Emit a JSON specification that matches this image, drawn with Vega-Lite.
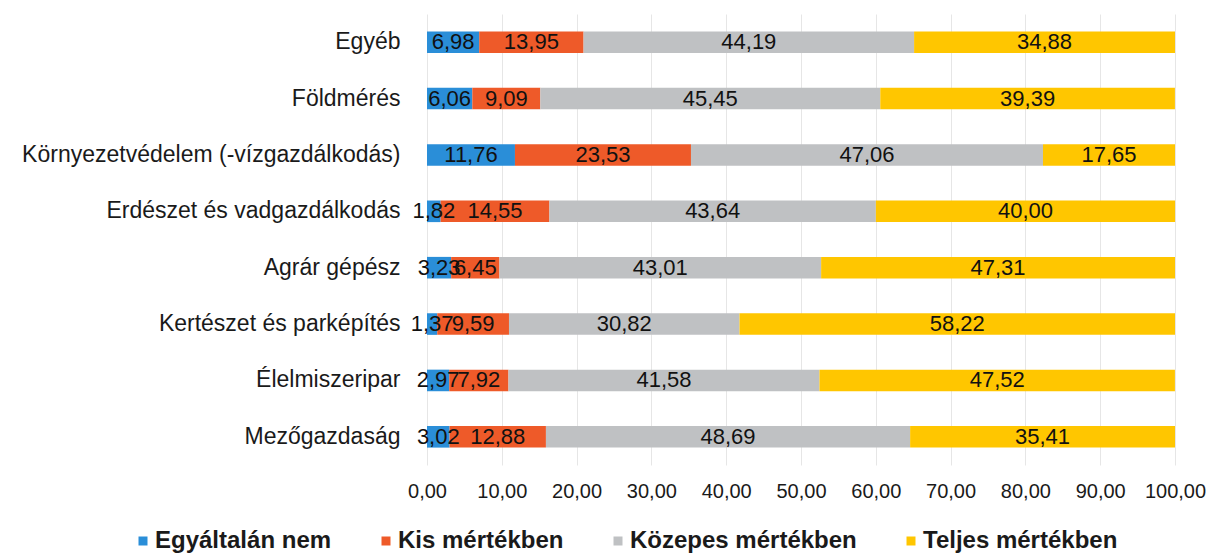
{
  "$schema": "https://vega.github.io/schema/vega-lite/v6.json",
  "width": 748,
  "height": 451,
  "autosize": {"type": "none"},
  "padding": {"left": 427, "top": 14, "right": 36, "bottom": 88},
  "background": "white",
  "config": {
    "font": "Liberation Sans",
    "view": {"stroke": null}
  },
  "data": {
    "values": [
      {"cat": "Egyéb", "resp": "Egyáltalán nem", "o": 1, "v": 6.98},
      {"cat": "Egyéb", "resp": "Kis mértékben", "o": 2, "v": 13.95},
      {"cat": "Egyéb", "resp": "Közepes mértékben", "o": 3, "v": 44.19},
      {"cat": "Egyéb", "resp": "Teljes mértékben", "o": 4, "v": 34.88},
      {"cat": "Földmérés", "resp": "Egyáltalán nem", "o": 1, "v": 6.06},
      {"cat": "Földmérés", "resp": "Kis mértékben", "o": 2, "v": 9.09},
      {"cat": "Földmérés", "resp": "Közepes mértékben", "o": 3, "v": 45.45},
      {"cat": "Földmérés", "resp": "Teljes mértékben", "o": 4, "v": 39.39},
      {"cat": "Környezetvédelem (-vízgazdálkodás)", "resp": "Egyáltalán nem", "o": 1, "v": 11.76},
      {"cat": "Környezetvédelem (-vízgazdálkodás)", "resp": "Kis mértékben", "o": 2, "v": 23.53},
      {"cat": "Környezetvédelem (-vízgazdálkodás)", "resp": "Közepes mértékben", "o": 3, "v": 47.06},
      {"cat": "Környezetvédelem (-vízgazdálkodás)", "resp": "Teljes mértékben", "o": 4, "v": 17.65},
      {"cat": "Erdészet és vadgazdálkodás", "resp": "Egyáltalán nem", "o": 1, "v": 1.82},
      {"cat": "Erdészet és vadgazdálkodás", "resp": "Kis mértékben", "o": 2, "v": 14.55},
      {"cat": "Erdészet és vadgazdálkodás", "resp": "Közepes mértékben", "o": 3, "v": 43.64},
      {"cat": "Erdészet és vadgazdálkodás", "resp": "Teljes mértékben", "o": 4, "v": 40.00},
      {"cat": "Agrár gépész", "resp": "Egyáltalán nem", "o": 1, "v": 3.23},
      {"cat": "Agrár gépész", "resp": "Kis mértékben", "o": 2, "v": 6.45},
      {"cat": "Agrár gépész", "resp": "Közepes mértékben", "o": 3, "v": 43.01},
      {"cat": "Agrár gépész", "resp": "Teljes mértékben", "o": 4, "v": 47.31},
      {"cat": "Kertészet és parképítés", "resp": "Egyáltalán nem", "o": 1, "v": 1.37},
      {"cat": "Kertészet és parképítés", "resp": "Kis mértékben", "o": 2, "v": 9.59},
      {"cat": "Kertészet és parképítés", "resp": "Közepes mértékben", "o": 3, "v": 30.82},
      {"cat": "Kertészet és parképítés", "resp": "Teljes mértékben", "o": 4, "v": 58.22},
      {"cat": "Élelmiszeripar", "resp": "Egyáltalán nem", "o": 1, "v": 2.97},
      {"cat": "Élelmiszeripar", "resp": "Kis mértékben", "o": 2, "v": 7.92},
      {"cat": "Élelmiszeripar", "resp": "Közepes mértékben", "o": 3, "v": 41.58},
      {"cat": "Élelmiszeripar", "resp": "Teljes mértékben", "o": 4, "v": 47.52},
      {"cat": "Mezőgazdaság", "resp": "Egyáltalán nem", "o": 1, "v": 3.02},
      {"cat": "Mezőgazdaság", "resp": "Kis mértékben", "o": 2, "v": 12.88},
      {"cat": "Mezőgazdaság", "resp": "Közepes mértékben", "o": 3, "v": 48.69},
      {"cat": "Mezőgazdaság", "resp": "Teljes mértékben", "o": 4, "v": 35.41}
    ]
  },
  "transform": [
    {"stack": "v", "groupby": ["cat"], "sort": [{"field": "o", "order": "ascending"}], "as": ["x0", "x1"]},
    {"calculate": "(datum.x0 + datum.x1) / 2", "as": "mid"},
    {"calculate": "replace(format(datum.v, '.2f'), '.', ',')", "as": "lab"}
  ],
  "encoding": {
    "y": {
      "field": "cat",
      "type": "nominal",
      "sort": ["Egyéb", "Földmérés", "Környezetvédelem (-vízgazdálkodás)", "Erdészet és vadgazdálkodás", "Agrár gépész", "Kertészet és parképítés", "Élelmiszeripar", "Mezőgazdaság"],
      "scale": {"paddingInner": 0.617, "paddingOuter": 0.3085},
      "axis": {
        "title": null,
        "ticks": false,
        "domain": false,
        "labelFontSize": 23,
        "labelColor": "#1a1a1a",
        "labelPadding": 27,
        "labelLimit": 500
      }
    }
  },
  "layer": [
    {
      "mark": {"type": "bar"},
      "encoding": {
        "x": {
          "field": "x0",
          "type": "quantitative",
          "scale": {"domain": [0, 100], "nice": false},
          "axis": {
            "title": null,
            "values": [0, 10, 20, 30, 40, 50, 60, 70, 80, 90, 100],
            "labelExpr": "replace(format(datum.value, '.2f'), '.', ',')",
            "labelFontSize": 20,
            "labelColor": "#1a1a1a",
            "labelPadding": 16,
            "labelOverlap": false,
            "labelFlush": false,
            "labelBound": false,
            "ticks": false,
            "domain": false,
            "grid": true,
            "gridColor": "#e6e6e6",
            "gridWidth": 1
          }
        },
        "x2": {"field": "x1"},
        "color": {
          "field": "resp",
          "type": "nominal",
          "sort": ["Egyáltalán nem", "Kis mértékben", "Közepes mértékben", "Teljes mértékben"],
          "scale": {
            "domain": ["Egyáltalán nem", "Kis mértékben", "Közepes mértékben", "Teljes mértékben"],
            "range": ["#2A8ED8", "#EE5A29", "#BFC1C3", "#FFC600"]
          },
          "legend": {
            "title": null,
            "orient": "none",
            "direction": "horizontal",
            "legendX": -296,
            "legendY": 515,
            "symbolType": "square",
            "symbolSize": 81,
            "symbolStrokeWidth": 0,
            "labelFontSize": 24,
            "labelFontWeight": "bold",
            "labelColor": "#1a1a1a",
            "labelOffset": 0,
            "labelLimit": 400,
            "columnPadding": 42
          }
        }
      }
    },
    {
      "mark": {"type": "text", "fontSize": 22, "color": "#111111", "baseline": "middle", "align": "center"},
      "encoding": {
        "x": {"field": "mid", "type": "quantitative"},
        "text": {"field": "lab", "type": "nominal"}
      }
    }
  ]
}
